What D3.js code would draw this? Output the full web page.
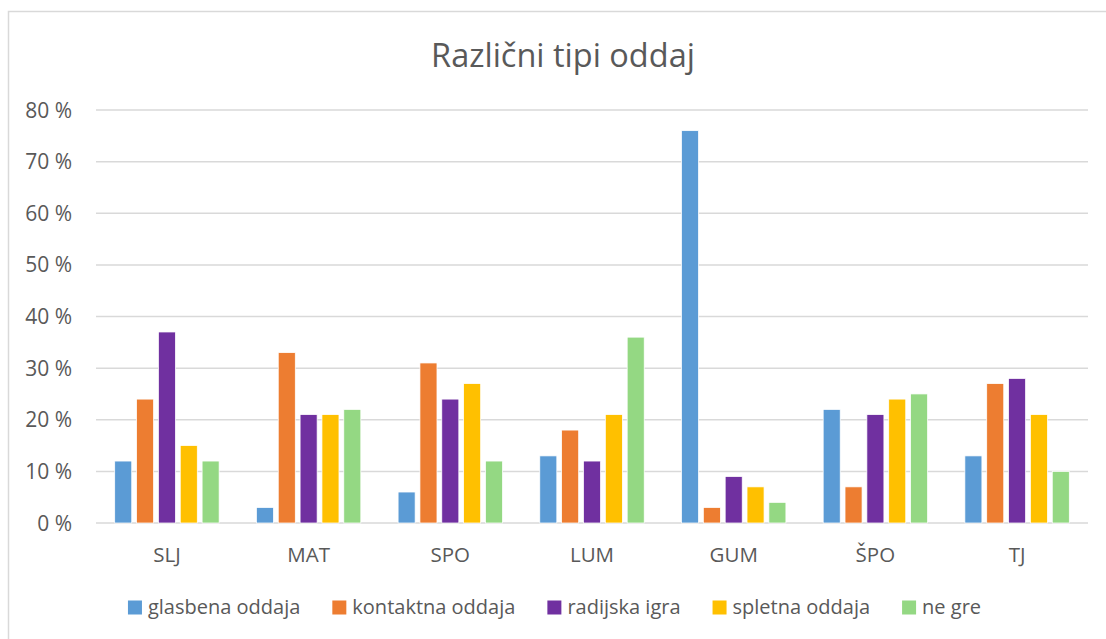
<!DOCTYPE html>
<html>
<head>
<meta charset="utf-8">
<script src="https://cdn.jsdelivr.net/npm/d3@7"></script>
<style>
  body { margin: 0; background: #fff; }
  text { font-family: "Open Sans", sans-serif; fill: #595959; }
</style>
</head>
<body>
<div id="container"></div>
<script>
const width = 1106, height = 639;

// data (percent)
const categories = ["SLJ", "MAT", "SPO", "LUM", "GUM", "ŠPO", "TJ"];
const seriesNames = ["glasbena oddaja", "kontaktna oddaja", "radijska igra", "spletna oddaja", "ne gre"];
const glasbena = [12, 3, 6, 13, 76, 22, 13];
const kontaktna = [24, 33, 31, 18, 3, 7, 27];
const radijska = [37, 21, 24, 12, 9, 21, 28];
const spletna = [15, 21, 27, 21, 7, 24, 21];
const neGre = [12, 22, 12, 36, 4, 25, 10];
const yTicks = [0, 10, 20, 30, 40, 50, 60, 70, 80];
const colors = ["#5B9BD5", "#ED7D31", "#7030A0", "#FFC000", "#94D883"];

const seriesValues = [glasbena, kontaktna, radijska, spletna, neGre];

const plot = { left: 96, right: 1088, top: 110, bottom: 523 };

const svg = d3.select("#container").append("svg")
    .attr("width", width)
    .attr("height", height);

// chart border
svg.append("rect")
    .attr("x", 8.5).attr("y", 11.5)
    .attr("width", 1100).attr("height", 640)
    .attr("fill", "#fff")
    .attr("stroke", "#d9d9d9")
    .attr("stroke-width", 1.5);

// title
svg.append("text")
    .attr("x", 563).attr("y", 67)
    .attr("text-anchor", "middle")
    .style("font-size", "32.5px")
    .text("Različni tipi oddaj");

const y = d3.scaleLinear().domain([0, 80]).range([plot.bottom, plot.top]);

const x0 = d3.scaleBand()
    .domain(categories)
    .range([plot.left, plot.right])
    .paddingInner(0.263)
    .paddingOuter(0.132);

const x1 = d3.scaleBand()
    .domain(seriesNames)
    .range([0, x0.bandwidth()])
    .paddingInner(0.22);

// gridlines
svg.append("g")
    .selectAll("line")
    .data(yTicks)
    .join("line")
    .attr("x1", plot.left).attr("x2", plot.right)
    .attr("y1", d => y(d)).attr("y2", d => y(d))
    .attr("stroke", "#d9d9d9")
    .attr("stroke-width", 1.5);

// y tick labels
svg.append("g")
    .selectAll("text")
    .data(yTicks)
    .join("text")
    .attr("x", 72)
    .attr("y", d => y(d))
    .attr("dy", "0.36em")
    .attr("text-anchor", "end")
    .style("font-size", "21px")
    .text(d => d + " %");

// bars
const rows = categories.map((c, i) => ({
    cat: c,
    vals: seriesNames.map((s, j) => ({ s, j, v: seriesValues[j][i] }))
}));

svg.append("g")
    .selectAll("g")
    .data(rows)
    .join("g")
    .attr("transform", d => `translate(${x0(d.cat)},0)`)
    .selectAll("rect")
    .data(d => d.vals)
    .join("rect")
    .attr("x", d => x1(d.s))
    .attr("y", d => y(d.v))
    .attr("width", x1.bandwidth())
    .attr("height", d => y(0) - y(d.v))
    .attr("fill", d => colors[d.j])
    .attr("stroke", "#fff")
    .attr("stroke-width", 0.75);

// category labels
svg.append("g")
    .selectAll("text")
    .data(categories)
    .join("text")
    .attr("x", d => x0(d) + x0.bandwidth() / 2)
    .attr("y", 562)
    .attr("text-anchor", "middle")
    .style("font-size", "20.5px")
    .text(d => d);

// legend
const legend = svg.append("g");
const items = legend.selectAll("g")
    .data(seriesNames)
    .join("g");
items.append("rect")
    .attr("width", 14).attr("height", 14)
    .attr("y", 600.5)
    .attr("fill", (d, i) => colors[i]);
items.append("text")
    .attr("x", 20)
    .attr("y", 614)
    .style("font-size", "20px")
    .text(d => d);

// lay legend items out by measured widths, centered
let widths = [];
items.each(function () { widths.push(this.getBBox().width); });
const gap = 32;
const total = d3.sum(widths) + gap * (widths.length - 1);
let cx = 554.5 - total / 2;
items.attr("transform", (d, i) => {
    const t = `translate(${cx},0)`;
    cx += widths[i] + gap;
    return t;
});
</script>
</body>
</html>
